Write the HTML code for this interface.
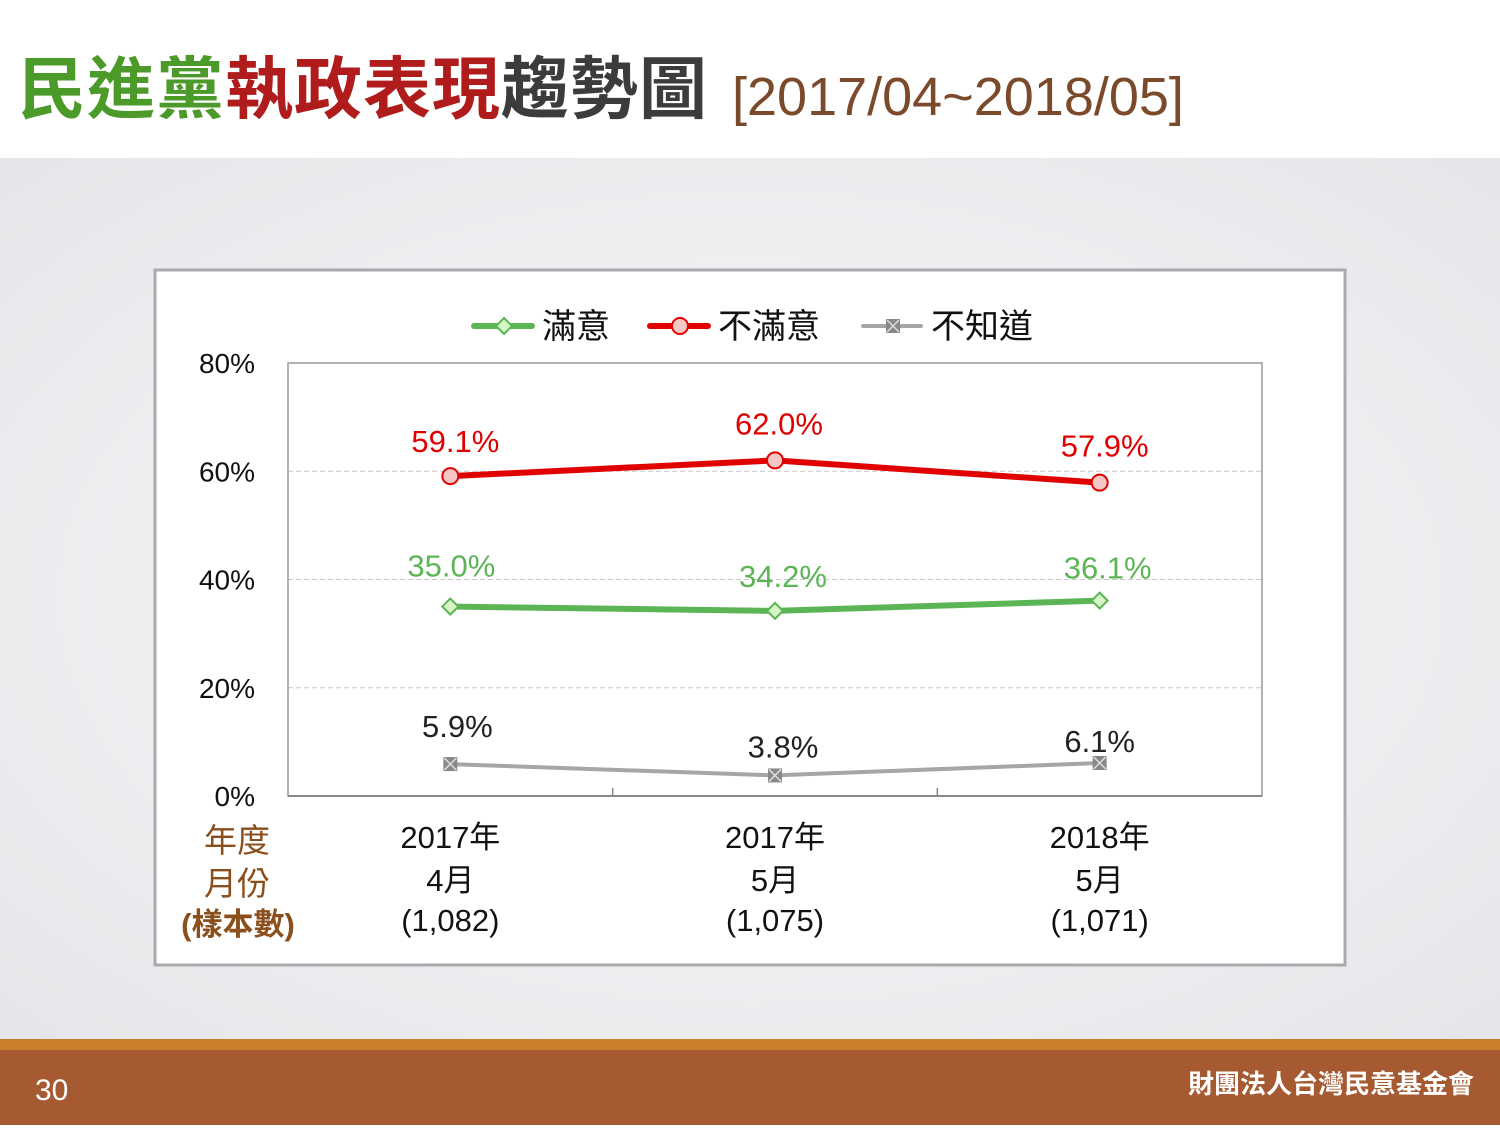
<!DOCTYPE html>
<html><head><meta charset="utf-8"><style>
body{margin:0;width:1500px;height:1125px;overflow:hidden;font-family:"Liberation Sans","Noto Sans CJK TC",sans-serif;}
</style></head><body>
<svg id="c" width="1500" height="1125" xmlns="http://www.w3.org/2000/svg" font-family="'Liberation Sans','Noto Sans CJK TC',sans-serif">
<defs>
<radialGradient id="bg" cx="0.5" cy="0.5" r="0.7">
<stop offset="0" stop-color="#f7f8f9"/><stop offset="0.6" stop-color="#eceef0"/><stop offset="1" stop-color="#e4e6e9"/>
</radialGradient>
</defs>
<rect x="0" y="0" width="1500" height="158" fill="#fff"/>
<rect x="0" y="158" width="1500" height="881" fill="url(#bg)"/>
<text x="18" y="113" font-size="68" font-weight="bold" letter-spacing="1"><tspan fill="#4c9a2a">民進黨</tspan><tspan fill="#b01c1c">執政表現</tspan><tspan fill="#3c3c3c">趨勢圖</tspan></text>
<text x="732" y="115" font-size="54" fill="#7b4a2a">[2017/04~2018/05]</text>
<rect x="155" y="270" width="1190" height="695" fill="#fff" stroke="#a8aaad" stroke-width="3"/>
<g id="plot"></g>
<rect x="0" y="1039" width="1500" height="11" fill="#c97e28"/>
<rect x="0" y="1050" width="1500" height="75" fill="#a65a32"/>
<text x="35" y="1100" font-size="30" fill="#fff">30</text>
<text x="1474" y="1093" font-size="26" font-weight="bold" fill="#fff" text-anchor="end">財團法人台灣民意基金會</text>
</svg>
<script>
const categoriesYear=["2017年","2017年","2018年"];
const categoriesMonth=["4月","5月","5月"];
const categoriesN=["(1,082)","(1,075)","(1,071)"];
const satisfied=[35.0,34.2,36.1];
const dissatisfied=[59.1,62.0,57.9];
const unknown=[5.9,3.8,6.1];
const yTicks=[0,20,40,60,80];
const yTickLabels=["0%","20%","40%","60%","80%"];
const NS="http://www.w3.org/2000/svg";
const g=document.getElementById('plot');
const X0=288,X1=1262,Y0=796,Y1=363;
const xs=i=>X0+(X1-X0)/categoriesYear.length*(i+0.5);
const ys=v=>Y0-(v/80)*(Y0-Y1);
function el(t,a,p){const e=document.createElementNS(NS,t);for(const k in a)e.setAttribute(k,a[k]);(p||g).appendChild(e);return e;}
yTicks.forEach((v,i)=>{
 if(v>0&&v<80){const l=el('line',{x1:X0,x2:X1,y1:ys(v),y2:ys(v),stroke:'#c8c8c8','stroke-dasharray':'5,3'});
 
 }
 const t=el('text',{x:255,y:ys(v)+10,'font-size':28,'text-anchor':'end',fill:'#111'});t.textContent=yTickLabels[i];
 
 
});
const box=el('rect',{x:X0,y:Y1,width:X1-X0,height:Y0-Y1,fill:'none',stroke:'#999','stroke-width':1.5});


const ax=el('line',{x1:X0,x2:X1,y1:Y0,y2:Y0,stroke:'#888','stroke-width':2});


for(let i=1;i<categoriesYear.length;i++){const tk=el('line',{x1:X0+(X1-X0)/3*i,x2:X0+(X1-X0)/3*i,y1:Y0,y2:Y0-8,stroke:'#888','stroke-width':1.5});
 
 }
categoriesYear.forEach((c,i)=>{
 [[c,848],[categoriesMonth[i],891],[categoriesN[i],931]].forEach(([s,y])=>{
  const t=el('text',{x:xs(i),y:y,'font-size':31,'text-anchor':'middle',fill:'#111'});t.textContent=s;
  
  
 });
});
[["年度",237,852],["月份",237,895],["(樣本數)",238,935]].forEach(([s,x,y],i)=>{
 const t=el('text',{x:x,y:y,'font-size':i==2?31:33,'font-weight':i==2?'bold':'normal','text-anchor':'middle',fill:'#8a4f1c'});t.textContent=s;
 
 
});
function marker(type,x,y,color,fill,parent){
 let m;
 if(type=='d')m=el('polygon',{points:`${x},${y-8} ${x+8},${y} ${x},${y+8} ${x-8},${y}`,fill:fill,stroke:color,'stroke-width':2},parent);
 else if(type=='c')m=el('circle',{cx:x,cy:y,r:8,fill:fill,stroke:color,'stroke-width':2},parent);
 else{m=el('g',{},parent);el('rect',{x:x-7,y:y-7,width:14,height:14,fill:'#888'},m);el('path',{d:`M${x-6},${y-6}L${x+6},${y+6}M${x+6},${y-6}L${x-6},${y+6}`,stroke:'#ddd','stroke-width':1.5},m);}
 return m;
}
const series=[
 {d:dissatisfied,c:'#e00000',f:'#f4c6c6',m:'c',lc:'#e00000',off:[-24,-26,-26],dx:[5,4,5],n:'dissatisfied'},
 {d:satisfied,c:'#5cb554',f:'#d8f5c8',m:'d',lc:'#5cb554',off:[-30,-24,-22],dx:[1,8,8],n:'satisfied'},
 {d:unknown,c:'#a6a6a6',f:'#888',m:'x',lc:'#222',off:[-27,-18,-11],dx:[7,8,0],n:'unknown'}];
series.forEach(s=>{
 const pl=el('polyline',{points:s.d.map((v,i)=>xs(i)+','+ys(v)).join(' '),fill:'none',stroke:s.c,'stroke-width':s.m=='x'?4:6});
 
 
 s.d.forEach((v,i)=>{
  const mk=marker(s.m,xs(i),ys(v),s.c,s.f);
  
  
  const t=el('text',{x:xs(i)+s.dx[i],y:ys(v)+s.off[i],'font-size':31,'text-anchor':'middle',fill:s.lc});t.textContent=v.toFixed(1)+'%';
  
  
 });
});
const leg=[['滿意','#5cb554','#d8f5c8','d',474],['不滿意','#e00000','#f4c6c6','c',650],['不知道','#a6a6a6','#888','x',863]];
leg.forEach(([s,c,f,m,x])=>{
 const lg=el('g',{});
 
 
 el('line',{x1:x,x2:x+58,y1:326,y2:326,stroke:c,'stroke-width':m=='x'?4:6,'stroke-linecap':'round'},lg);
 marker(m,x+30,326,c,f,lg);
 const t=el('text',{x:x+68,y:338,'font-size':34,fill:'#111'},lg);t.textContent=s;
});
</script>
</body></html>
